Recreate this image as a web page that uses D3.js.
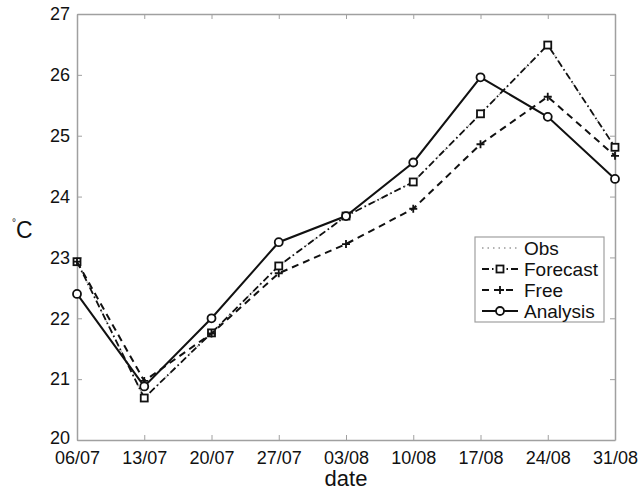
<!DOCTYPE html>
<html>
<head>
<meta charset="utf-8">
<script src="https://cdn.jsdelivr.net/npm/d3@7"></script>
<style>
  body { margin: 0; background: #fff; }
  text { font-family: "Liberation Sans", Arial, sans-serif; }
</style>
</head>
<body>
<svg id="chart" width="640" height="491"></svg>
<script>
var dates = ["06/07", "13/07", "20/07", "27/07", "03/08", "10/08", "17/08", "24/08", "31/08"];
var obs      = [22.93, 20.69, 21.76, 22.86, 23.68, 24.24, 25.36, 26.49, 24.81];
var forecast = [22.93, 20.69, 21.76, 22.86, 23.68, 24.24, 25.36, 26.49, 24.81];
var free     = [22.93, 20.97, 21.75, 22.74, 23.22, 23.80, 24.86, 25.64, 24.67];
var analysis = [22.40, 20.88, 22.00, 23.25, 23.68, 24.56, 25.96, 25.31, 24.29];
var yTicks = [20, 21, 22, 23, 24, 25, 26, 27];

var svg = d3.select("#chart"),
    margin = {top: 14, right: 25, bottom: 51, left: 77},
    width = +svg.attr("width") - margin.left - margin.right,
    height = +svg.attr("height") - margin.top - margin.bottom,
    g = svg.append("g").attr("transform", "translate(" + margin.left + "," + margin.top + ")");

var x = d3.scalePoint().domain(dates).range([0, width]);
var y = d3.scaleLinear().domain([20, 27]).range([height, 0]);

var boxColor = "#a0a0a0";

function styleAxis(sel) {
  sel.select(".domain").attr("stroke", boxColor).attr("stroke-width", 1.5);
  sel.selectAll(".tick line").attr("stroke", boxColor);
  sel.selectAll(".tick text").attr("fill", "#111").style("font-size", "18px");
}

g.append("g")
    .attr("transform", "translate(0," + height + ")")
    .call(d3.axisBottom(x).tickSizeInner(-5).tickSizeOuter(0).tickPadding(11))
    .call(styleAxis);

g.append("g")
    .call(d3.axisTop(x).tickSizeInner(-5).tickSizeOuter(0).tickFormat(""))
    .call(styleAxis);

g.append("g")
    .call(d3.axisLeft(y).tickValues(yTicks).tickSizeInner(-5).tickSizeOuter(0).tickPadding(7).tickFormat(d3.format("d")))
    .call(styleAxis);

g.append("g")
    .attr("transform", "translate(" + width + ",0)")
    .call(d3.axisRight(y).tickValues(yTicks).tickSizeInner(-5).tickSizeOuter(0).tickFormat(""))
    .call(styleAxis);

// nudge the lowest y label up a little so it clears the first date
g.selectAll(".tick text").filter(function(d) { return d === 20; }).attr("dy", "0.2em");

// axis labels
svg.append("text")
    .attr("x", 346)
    .attr("y", 486)
    .attr("text-anchor", "middle")
    .style("font-size", "22px")
    .attr("fill", "#111")
    .text("date");

var ylab = svg.append("text")
    .attr("x", 12)
    .attr("y", 231)
    .style("font-size", "23px")
    .attr("fill", "#111");
ylab.append("tspan").attr("dy", "-0.55em").style("font-size", "10px").text("°");
ylab.append("tspan").attr("dy", "0.55em").text("C");

var series = [
  {name: "Obs", values: obs, dash: "1.5,4", color: "#9a9a9a", width: 1.3, marker: null},
  {name: "Forecast", values: forecast, dash: "7,3,1.5,3", color: "#111", width: 1.8, marker: "square"},
  {name: "Free", values: free, dash: "7,5", color: "#111", width: 2, marker: "plus"},
  {name: "Analysis", values: analysis, dash: null, color: "#111", width: 2, marker: "circle"}
];

var line = d3.line()
    .x(function(d, i) { return x(dates[i]); })
    .y(function(d) { return y(d); });

function drawMarker(sel, type, color) {
  if (type === "square") {
    sel.append("rect").attr("x", -3.5).attr("y", -3.5).attr("width", 7).attr("height", 7)
      .attr("fill", "#fff").attr("stroke", color).attr("stroke-width", 1.8);
  } else if (type === "circle") {
    sel.append("circle").attr("r", 4)
      .attr("fill", "#fff").attr("stroke", color).attr("stroke-width", 1.8);
  } else if (type === "plus") {
    sel.append("path").attr("d", "M-4,0H4M0,-4V4")
      .attr("stroke", color).attr("stroke-width", 1.8);
  }
}

series.forEach(function(s) {
  g.append("path")
      .datum(s.values)
      .attr("fill", "none")
      .attr("stroke", s.color)
      .attr("stroke-width", s.width)
      .attr("stroke-dasharray", s.dash)
      .attr("d", line);
  if (s.marker) {
    g.selectAll(null)
      .data(s.values)
      .enter().append("g")
      .attr("transform", function(d, i) { return "translate(" + x(dates[i]) + "," + y(d) + ")"; })
      .each(function() { drawMarker(d3.select(this), s.marker, s.color); });
  }
});

// legend
var legend = svg.append("g").attr("transform", "translate(475,237)");
legend.append("rect")
    .attr("width", 129).attr("height", 85)
    .attr("fill", "#fff").attr("stroke", boxColor).attr("stroke-width", 1.2);

series.forEach(function(s, i) {
  var row = legend.append("g").attr("transform", "translate(0," + (11 + i * 21) + ")");
  row.append("line")
      .attr("x1", 7).attr("x2", 43)
      .attr("stroke", s.color)
      .attr("stroke-width", s.width)
      .attr("stroke-dasharray", s.dash);
  if (s.marker) {
    drawMarker(row.append("g").attr("transform", "translate(25,0)"), s.marker, s.color);
  }
  row.append("text")
      .attr("x", 49).attr("dy", "0.36em")
      .style("font-size", "19px")
      .attr("fill", "#111")
      .text(s.name);
});
</script>
</body>
</html>
